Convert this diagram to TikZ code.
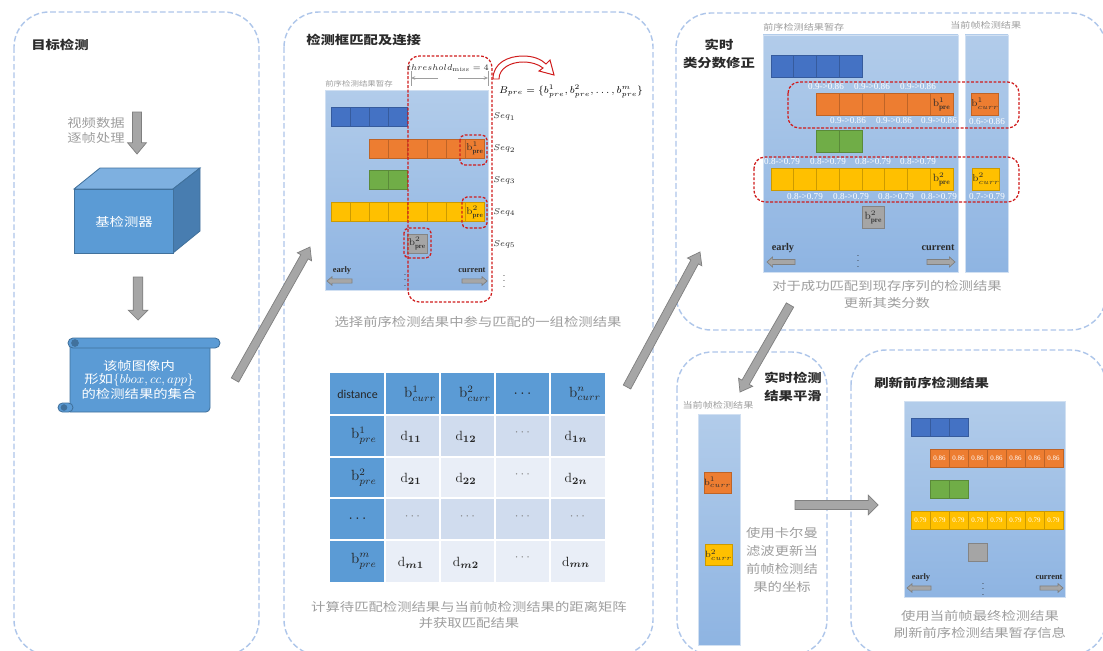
\documentclass[tikz,border=0pt]{standalone}
\usepackage{fontspec}
\usepackage{bm}
\usetikzlibrary{calc,arrows.meta}

\newfontfamily\cjk{Noto Sans CJK SC}[FakeStretch=1.2]
\newfontfamily\calfont{Carlito}
\newfontfamily\numfont{Liberation Serif}

\definecolor{cblue}{HTML}{4472C4}
\definecolor{corange}{HTML}{ED7D31}
\definecolor{cgreen}{HTML}{70AD47}
\definecolor{cyellow}{HTML}{FFC000}
\definecolor{cgray}{HTML}{A5A5A5}
\definecolor{panelline}{HTML}{AEC6EA}
\definecolor{boxtop}{HTML}{B2CCEA}
\definecolor{boxbot}{HTML}{8EB4E2}
\definecolor{mblue}{HTML}{5B9BD5}
\definecolor{mdark}{HTML}{41719C}
\definecolor{cubetop}{HTML}{7EB0E0}
\definecolor{cubeside}{HTML}{487DB0}
\definecolor{rowdark}{HTML}{D0DCEE}
\definecolor{rowlight}{HTML}{E9EEF7}
\definecolor{capgray}{HTML}{9E9E9E}
\definecolor{titlegray}{HTML}{2B2B2B}
\definecolor{arrowfill}{HTML}{A6A6A6}
\definecolor{arrowline}{HTML}{7F7F7F}
\definecolor{dashred}{HTML}{D01C1C}

\tikzset{
  panel/.style={draw=panelline, line width=1pt, dash pattern=on 4pt off 2pt, rounded corners=25pt},
  redbox/.style={draw=dashred, line width=0.9pt, dash pattern=on 2pt off 1.2pt, rounded corners=#1},
  redbox/.default=8pt,
  seqbox/.style={top color=boxtop, bottom color=boxbot, draw=boxtop!60!white, line width=0.4pt},
  cellsize/.style={minimum width=13.7pt, minimum height=13.5pt},
  cell/.style={draw=#1!80!black, fill=#1, line width=0.5pt, inner sep=0pt, cellsize, text=titlegray},
  title/.style={font=\cjk\bfseries\fontsize{8.5}{12.5}\selectfont, text=titlegray, align=center, inner sep=0pt},
  caption/.style={font=\cjk\fontsize{8.5}{12}\selectfont, text=capgray, align=center, inner sep=0pt},
  tag/.style={font=\cjk\fontsize{6}{7}\selectfont, text=capgray, inner sep=0pt},
  seq/.style={font=\fontsize{6}{7}\selectfont, text=titlegray, inner sep=0pt, anchor=west},
  score/.style={font=\numfont\fontsize{6.5}{7}\selectfont, text=white, inner sep=0pt},
  timetag/.style={font=\numfont\bfseries\fontsize{#1}{#1}\selectfont, text=titlegray, inner sep=0pt},
  vdot/.style={font=\fontsize{6}{6}\selectfont, text=titlegray, inner sep=0pt},
  mtxt/.style={font=\fontsize{10.5}{11}\selectfont, text=black!85, inner sep=0pt},
  dtxt/.style={font=\fontsize{9.5}{10}\selectfont, text=black!85, inner sep=0pt},
  fatarrow/.style={fill=arrowfill, draw=arrowline, line width=0.5pt},
  cube/.style={draw=mdark, line width=0.6pt},
  scroll/.style={draw=mdark, line width=0.6pt, fill=mblue},
  dim/.style={draw=capgray, line width=0.5pt}
}

% block arrow: from, to, half shaft, half head, head length
\newcommand{\fatarrow}[5]{%
  \filldraw[fatarrow] let \p1=($(#2)!#5!(#1)$) in
    ($(#1)!#3!90:(#2)$) -- ($(\p1)!#3!90:(#2)$) -- ($(\p1)!#4!90:(#2)$) -- (#2)
    -- ($(\p1)!#4!-90:(#2)$) -- ($(\p1)!#3!-90:(#2)$) -- ($(#1)!#3!-90:(#2)$) -- cycle;%
}

\begin{document}
\begin{tikzpicture}[x=0.025cm, y=-0.025cm]
\useasboundingbox (0,0) rectangle (1103,650);
\fill[white] (0,0) rectangle (1103,650);

% dashed frames
\begin{scope}
  \clip (0,0) rectangle (1103,650);
  \draw[panel] (14,12) rectangle (259,655);
  \draw[panel] (284,12) rectangle (653,655);
  \draw[panel] (676,13) rectangle (1106,330);
  \draw[panel] (677,352) rectangle (827,655);
  \draw[panel] (851,350) rectangle (1106,655);
\end{scope}

%%% detection
\node[title, anchor=west] (detTitle) at (31,45) {目标检测};
\node[caption, font=\cjk\fontsize{8.5}{10.7}\selectfont] (frames) at (96,130) {视频数据\\逐帧处理};
\coordinate (in1) at (137,112);
\coordinate (in2) at (137,154);
\fatarrow{in1}{in2}{3.2pt}{6.7pt}{8pt}

\filldraw[cube, fill=cubetop] (74,189) -- (100,168) -- (200,168) -- (173,189) -- cycle;
\filldraw[cube, fill=cubeside] (173,189) -- (200,168) -- (200,231) -- (173,253) -- cycle;
\filldraw[cube, fill=mblue] (74,189) rectangle (173,253);
\node[font=\cjk\fontsize{8.5}{10}\selectfont, text=white] (base) at (124,222) {基检测器};

\coordinate (out1) at (138,277);
\coordinate (out2) at (138,320);
\fatarrow{out1}{out2}{3.4pt}{7pt}{7pt}

% scroll
\filldraw[scroll] (70,343) -- (210,343) [rounded corners=3pt] -- (210,412) [sharp corners] -- (70,412) -- cycle;
\filldraw[scroll, rounded corners=3.5pt] (68,338) rectangle (220,348);
\filldraw[scroll, fill=mdark] (75,343) circle (2.4pt);
\filldraw[scroll, rounded corners=3.2pt] (58,403) rectangle (73,412);
\filldraw[scroll, fill=mdark] (64,407.5) circle (2pt);
\node[font=\cjk\fontsize{8.5}{9.2}\selectfont, text=white, align=center] (dets) at (139,380)
  {该帧图像内\\形如{\fontsize{9.5}{9.2}\selectfont$\{bbox, cc, app\}$}\\的检测结果的集合};

%%% matching
\node[title, anchor=west] (matchTitle) at (306,40) {检测框匹配及连接};
\node[tag, anchor=west, font=\cjk\fontsize{5}{6}\selectfont] (bufTag) at (325,84) {前序检测结果暂存};
\shadedraw[seqbox] (325,90) rectangle (488,290);

\foreach \k in {0,...,3} \node[cell=cblue] (mA\k) at ({340.6+19.2*\k},116.5) {};
\foreach \k in {2,...,6} \node[cell=corange] (mB\k) at ({340.6+19.2*\k},148.5) {};
\node[cell=corange, font=\fontsize{7}{7}\selectfont] (mB7) at (475,148.5) {$\mathrm{b}^1_{\mathbf{pre}}$};
\foreach \k in {2,3} \node[cell=cgreen] (mC\k) at ({340.6+19.2*\k},180) {};
\foreach \k in {0,...,6} \node[cell=cyellow] (mD\k) at ({340.6+19.2*\k},212) {};
\node[cell=cyellow, font=\fontsize{7}{7}\selectfont] (mD7) at (475,212) {$\mathrm{b}^2_{\mathbf{pre}}$};
\node[cell=cgray, font=\fontsize{7}{7}\selectfont] (mE4) at (417.4,243.5) {$\mathrm{b}^2_{\mathbf{pre}}$};

\foreach \i/\y in {1/116.5, 2/148.5, 3/180, 4/212, 5/244}
  \node[seq] (seq\i) at (493,\y) {$Seq_{\i}$};
\node[vdot] (mDots) at (405,276) {$\vdots$};
\node[vdot] (seqDots) at (504,277) {$\vdots$};

\node[timetag=6] (mEarly) at (342,270) {early};
\node[timetag=6] (mNow) at (472,270) {current};
\coordinate (mL1) at (352,281);
\coordinate (mL2) at (327,281);
\coordinate (mR1) at (462,281);
\coordinate (mR2) at (487,281);
\fatarrow{mL1}{mL2}{1.5pt}{3pt}{3.5pt}
\fatarrow{mR1}{mR2}{1.5pt}{3pt}{3.5pt}

\draw[redbox] (408,56) rectangle (492,302);
\draw[redbox=3.5pt] (460,135) rectangle (487,165);
\draw[redbox=3.5pt] (462,197) rectangle (487,228);
\draw[redbox=3.5pt] (404,228) rectangle (431,258);

% window width
\node[font=\fontsize{6.5}{7}\selectfont, text=titlegray, inner sep=0pt] (thr) at (448,68) {$threshold_{\mathrm{miss}}=4$};
\coordinate (thL) at (411,78);
\coordinate (thLa) at (438,78);
\coordinate (thR) at (488,78);
\coordinate (thRa) at (458,78);
\draw[dim, -{Stealth[length=3pt, width=2.5pt]}] (thLa) -- (thL);
\draw[dim, -{Stealth[length=3pt, width=2.5pt]}] (thRa) -- (thR);
\draw[dim] (411,71) -- (411,86);
\draw[dim] (488,71) -- (488,86);

\filldraw[draw=dashred, fill=white, line width=0.7pt] (493,79) .. controls (493,63) and (508,56) .. (523,56)
  .. controls (533,56) and (541,59) .. (546,64) -- (550,60) -- (554,75) -- (539,71) -- (543,68)
  .. controls (538,64) and (531,62) .. (523,62) .. controls (511,62) and (499,68) .. (499,79) -- cycle;
\node[font=\fontsize{7.2}{9}\selectfont, inner sep=0pt] (bset) at (571,91)
  {$B_{pre}=\{b^1_{pre}, b^2_{pre}, \ldots, b^m_{pre}\}$};

\node[caption] (selCap) at (478,322) {选择前序检测结果中参与匹配的一组检测结果};

% distance matrix
\fill[mblue] (330,373) rectangle (605,414.8);
\fill[mblue] (330,414.8) rectangle (385,582);
\fill[rowdark] (385,414.8) rectangle (605,456.6);
\fill[rowlight] (385,456.6) rectangle (605,498.4);
\fill[rowdark] (385,498.4) rectangle (605,540.2);
\fill[rowlight] (385,540.2) rectangle (605,582);
\foreach \x in {385,440,495,550} \draw[white, line width=1.4pt] (\x,373) -- (\x,582);
\foreach \y in {414.8,456.6,498.4,540.2} \draw[white, line width=1.4pt] (330,\y) -- (605,\y);

\node[mtxt, font=\calfont\fontsize{8.5}{9}\selectfont] (h0) at (357.5,393.9) {distance};
\node[mtxt] (h1) at (420,393.9) {$\mathrm{b}^1_{curr}$};
\node[mtxt] (h2) at (475,393.9) {$\mathrm{b}^2_{curr}$};
\node[mtxt] (h3) at (522.5,393.9) {$\cdots$};
\node[mtxt] (h4) at (585,393.9) {$\mathrm{b}^n_{curr}$};
\node[mtxt] (r1) at (364,435.7) {$\mathrm{b}^1_{pre}$};
\node[mtxt] (r2) at (364,477.5) {$\mathrm{b}^2_{pre}$};
\node[mtxt] (r3) at (357.5,519.3) {$\cdots$};
\node[mtxt] (r4) at (364,561.1) {$\mathrm{b}^m_{pre}$};
\node[dtxt] (d11) at (411,437) {$\mathrm{d}_{\bm{11}}$};
\node[dtxt] (d12) at (466,437) {$\mathrm{d}_{\bm{12}}$};
\node[dtxt, text=gray] (d13) at (522.5,433) {$\cdots$};
\node[dtxt] (d14) at (576,437) {$\mathrm{d}_{\bm{1n}}$};
\node[dtxt] (d21) at (411,479) {$\mathrm{d}_{\bm{21}}$};
\node[dtxt] (d22) at (466,479) {$\mathrm{d}_{\bm{22}}$};
\node[dtxt, text=gray] (d23) at (522.5,475) {$\cdots$};
\node[dtxt] (d24) at (576,479) {$\mathrm{d}_{\bm{2n}}$};
\foreach \x in {412.5,467.5,522.5,577.5} \node[dtxt, text=gray] (d3\x) at (\x,517) {$\cdots$};
\node[dtxt] (d41) at (411,562.5) {$\mathrm{d}_{\bm{m1}}$};
\node[dtxt] (d42) at (466,562.5) {$\mathrm{d}_{\bm{m2}}$};
\node[dtxt, text=gray] (d43) at (522.5,558) {$\cdots$};
\node[dtxt] (d44) at (576,562.5) {$\mathrm{d}_{\bm{mn}}$};

\node[caption] (distCap) at (469,615) {计算待匹配检测结果与当前帧检测结果的距离矩阵\\并获取匹配结果};

\coordinate (a1s) at (235,380);
\coordinate (a1e) at (310,247);
\fatarrow{a1s}{a1e}{3pt}{5.8pt}{8pt}
\coordinate (a2s) at (627,387);
\coordinate (a2e) at (700,252);
\fatarrow{a2s}{a2e}{3pt}{5.8pt}{8pt}

%%% class score update
\node[title] (scoreTitle) at (719,54) {实时\\类分数修正};
\node[tag, anchor=west] (rBufTag) at (763,27) {前序检测结果暂存};
\node[tag, anchor=west] (rCurTag) at (950,25) {当前帧检测结果};
\shadedraw[seqbox] (763,35) rectangle (958,272);
\shadedraw[seqbox] (965,35) rectangle (1008,272);

\begin{scope}[cellsize/.style={minimum width=16.2pt, minimum height=15.6pt}]
  \foreach \k in {0,...,3} \node[cell=cblue] (rA\k) at ({782.4+22.75*\k},66) {};
  \foreach \k in {2,...,6} \node[cell=corange] (rB\k) at ({782.4+22.75*\k},104) {};
  \node[cell=corange, font=\fontsize{7.5}{8}\selectfont] (rB7) at (941.6,104) {$\mathrm{b}^1_{\mathbf{pre}}$};
  \foreach \k in {2,3} \node[cell=cgreen] (rC\k) at ({782.4+22.75*\k},141.5) {};
  \foreach \k in {0,...,6} \node[cell=cyellow] (rD\k) at ({782.4+22.75*\k},179) {};
  \node[cell=cyellow, font=\fontsize{7.5}{8}\selectfont] (rD7) at (941.6,179) {$\mathrm{b}^2_{\mathbf{pre}}$};
  \node[cell=cgray, font=\fontsize{7.5}{8}\selectfont] (rE4) at (873.4,217) {$\mathrm{b}^2_{\mathbf{pre}}$};
  \node[cell=corange, font=\fontsize{7}{8}\selectfont] (rc1) at (985,104) {$\mathrm{b}^1_{curr}$};
  \node[cell=cyellow, font=\fontsize{7}{8}\selectfont] (rc2) at (986,179) {$\mathrm{b}^2_{curr}$};
\end{scope}

\foreach \x in {826,872,918} \node[score] (up\x) at (\x,87) {0.9->0.86};
\foreach \x in {848,894,939} \node[score] (lo\x) at (\x,121) {0.9->0.86};
\node[score] (rc1s) at (987,122) {0.6->0.86};
\foreach \x in {782,828,873,918} \node[score] (yu\x) at (\x,162) {0.8->0.79};
\foreach \x in {805,851,896,939} \node[score] (yl\x) at (\x,197) {0.8->0.79};
\node[score] (rc2s) at (987,197) {0.7->0.79};

\draw[redbox] (788,82) rectangle (1019,128);
\draw[redbox] (754,157) rectangle (1019,202);

\node[timetag=7.3] (rEarly) at (783,248) {early};
\node[timetag=7.3] (rNow) at (938,248) {current};
\node[vdot] (rDots) at (858,257) {$\vdots$};
\coordinate (rL1) at (795,262);
\coordinate (rL2) at (767,262);
\coordinate (rR1) at (927,262);
\coordinate (rR2) at (955,262);
\fatarrow{rL1}{rL2}{1.8pt}{3.6pt}{4pt}
\fatarrow{rR1}{rR2}{1.8pt}{3.6pt}{4pt}

\node[caption] (rCap) at (887,294.5) {对于成功匹配到现存序列的检测结果\\更新其类分数};

\coordinate (a3s) at (790,305);
\coordinate (a3e) at (740,392);
\fatarrow{a3s}{a3e}{3pt}{5.8pt}{8pt}

%%% smoothing
\node[title] (smoothTitle) at (793,387) {实时检测\\结果平滑};
\node[tag] (sTag) at (718,405) {当前帧检测结果};
\shadedraw[seqbox] (698,414) rectangle (740,645);
\node[cell=corange, minimum width=16.4pt, minimum height=15pt, font=\fontsize{6.5}{7}\selectfont] (sB1) at (717.5,482.5) {$\mathrm{b}^1_{curr}$};
\node[cell=cyellow, minimum width=16.4pt, minimum height=15pt, font=\fontsize{6.5}{7}\selectfont] (sB2) at (718.5,555) {$\mathrm{b}^2_{curr}$};
\node[caption, font=\cjk\fontsize{8.5}{12.8}\selectfont] (sCap) at (782,560) {使用卡尔曼\\滤波更新当\\前帧检测结\\果的坐标};

\coordinate (a4s) at (795,505);
\coordinate (a4e) at (878,505);
\fatarrow{a4s}{a4e}{3.2pt}{7pt}{7pt}

%%% refresh buffer
\node[title, anchor=west] (refreshTitle) at (874,383) {刷新前序检测结果};
\shadedraw[seqbox] (904,401) rectangle (1065,597);
\begin{scope}[cellsize/.style={minimum width=13.5pt, minimum height=12.8pt}]
  \foreach \k in {0,...,2} \node[cell=cblue] (fA\k) at ({920.5+19*\k},427) {};
  \foreach \k in {1,...,7} \node[cell=corange, font=\numfont\fontsize{4.9}{5}\selectfont, text=white] (fB\k) at ({920.5+19*\k},458) {0.86};
  \foreach \k in {1,2} \node[cell=cgreen] (fC\k) at ({920.5+19*\k},489) {};
  \foreach \k in {0,...,7} \node[cell=cyellow, font=\numfont\fontsize{4.9}{5}\selectfont, text=white] (fD\k) at ({920.5+19*\k},520) {0.79};
  \node[cell=cgray] (fE3) at (977.5,552) {};
\end{scope}

\node[timetag=6] (fEarly) at (921,577) {early};
\node[timetag=6] (fNow) at (1049,577) {current};
\node[vdot] (fDots) at (983,585) {$\vdots$};
\coordinate (fL1) at (931,588);
\coordinate (fL2) at (907,588);
\coordinate (fR1) at (1040,588);
\coordinate (fR2) at (1063,588);
\fatarrow{fL1}{fL2}{1.5pt}{3pt}{3.5pt}
\fatarrow{fR1}{fR2}{1.5pt}{3pt}{3.5pt}

\node[caption] (fCap) at (980,624.5) {使用当前帧最终检测结果\\刷新前序检测结果暂存信息};
\end{tikzpicture}
\end{document}
